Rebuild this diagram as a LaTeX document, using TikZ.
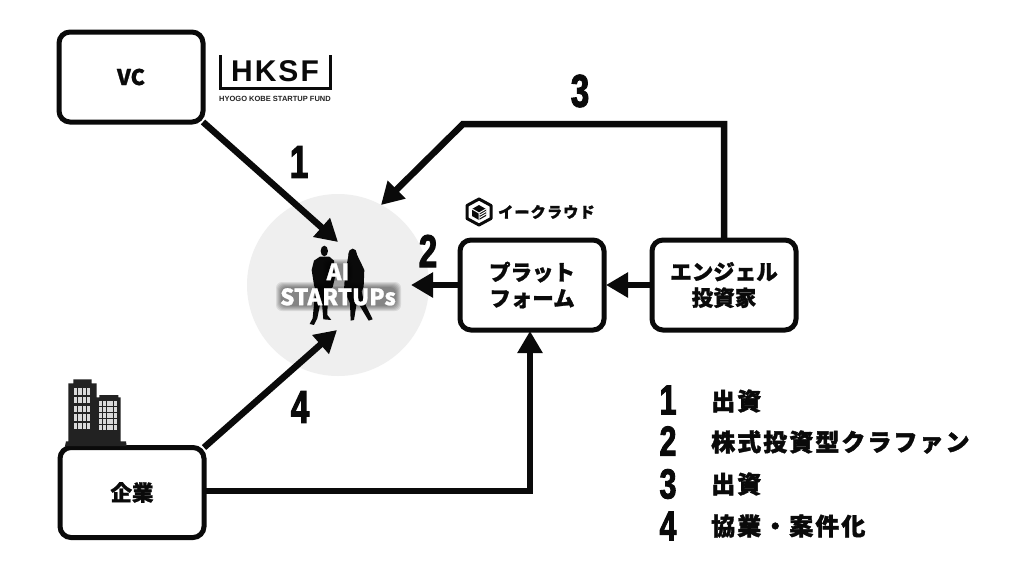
\documentclass[tikz,border=0pt]{standalone}
\usepackage{fontspec}
\usetikzlibrary{arrows.meta}
\newfontfamily\jp{Noto Sans CJK JP}[BoldFeatures={FakeBold=1.2}]
\newfontfamily\jpl{Noto Sans CJK JP}[LetterSpace=8.5,BoldFeatures={FakeBold=1.7,LetterSpace=8.5}]
\newfontfamily\numf{Liberation Sans Bold}[FakeStretch=0.72,FakeBold=2.2]
\newfontfamily\latin{Liberation Sans}
\definecolor{disc}{HTML}{EFEFEF}
\definecolor{ink}{HTML}{0A0A0A}
\definecolor{bld}{HTML}{222222}
\tikzset{
  boxn/.style={draw=ink,line width=5pt,rounded corners=11pt,fill=white,minimum width=144pt,minimum height=90pt,outer sep=0pt,inner sep=0pt,align=center,text=ink},
  boxt/.style={font=\jp\bfseries\fontsize{21.5}{26}\selectfont},
  link/.style={draw=ink,line width=6.5pt,miter limit=10,-{Triangle[length=22pt,width=24pt]}},
  numl/.style={font=\numf\fontsize{46}{46}\selectfont,text=ink,inner sep=0pt},
  numk/.style={font=\numf\fontsize{42}{42}\selectfont,text=ink,inner sep=0pt},
  legt/.style={font=\jpl\bfseries\fontsize{24}{24}\selectfont,text=ink,inner sep=0pt,anchor=west},
  halo/.style={fill=black,opacity=0.09,rounded corners=6pt},
}
\begin{document}
\begin{tikzpicture}[x=1pt,y=-1pt]
\useasboundingbox (0,0) rectangle (1024,579);
\fill[white] (0,0) rectangle (1024,579);
% startup disc
\node[circle,fill=disc,minimum size=182pt,inner sep=0pt] (disc) at (338,285) {};
% silhouettes
\begin{scope}[shift={(240,190)},scale=0.3333,fill=ink]
  \fill (253,183) ellipse (11 and 16);
  \fill (240,200) -- (268,200) -- (282,212) -- (285,262) -- (278,292) -- (264,300) -- (262,375) -- (274,390) -- (250,388) -- (246,340) -- (240,345) -- (232,385) -- (222,405) -- (209,402) -- (218,385) -- (226,300) -- (222,285) -- (215,240) -- (222,212) -- cycle;
  \fill (338,192) ellipse (13 and 16);
  \fill (326,192) -- (350,192) -- (366,225) -- (373,240) -- (371,290) -- (365,305) -- (372,335) -- (398,388) -- (386,392) -- (358,345) -- (350,340) -- (342,390) -- (332,392) -- (330,340) -- (312,300) -- (316,240) -- (322,215) -- cycle;
\end{scope}
% text halos
\foreach \g in {0,1,2,3,4,5}{
  \fill[halo] ({276+\g},{282+\g}) rectangle ({401-\g},{311-\g});
  \fill[halo] ({323+\g},{259+\g}) rectangle ({352-\g},{285-\g});
}
\node[font=\jp\bfseries\fontsize{22.5}{25}\selectfont,text=white,align=center,inner sep=0pt] (ai) at (338,284.5) {AI\\STARTUPs};
% boxes
\node[boxn,boxt] (vc) at (131,77) {VC};
\node[boxn,boxt] (pf) at (532,285) {プラット\\フォーム};
\node[boxn,boxt] (ang) at (724,285) {エンジェル\\投資家};
\node[boxn,boxt] (corp) at (132,492.5) {企業};
% connectors
\coordinate (t1) at (338,242);
\coordinate (b3) at (463,124);
\coordinate (t3) at (381,205);
\coordinate (t2) at (411,285);
\coordinate (t4) at (337,330);
\coordinate (b5) at (530,491);
\coordinate (t5) at (530,331);
\coordinate (t6) at (606,285);
\coordinate (s3a) at (724,124);
\draw[link] (vc.south east) -- (t1);
\draw[link] (ang.north) -- (s3a) -- (b3) -- (t3);
\draw[link] (pf.west) -- (t2);
\draw[link] (ang.west) -- (t6);
\draw[link] (corp.north east) -- (t4);
\draw[link] (corp.east |- b5) -- (b5) -- (t5);
% flow numbers
\node[numl] (n1) at (299,162) {1};
\node[numl] (n2) at (428,251) {2};
\node[numl] (n3) at (580,91) {3};
\node[numl] (n4) at (300,407) {4};
% legend
\node[numk] (k1) at (668,400) {1};
\node[numk] (k2) at (668,441) {2};
\node[numk] (k3) at (668,484) {3};
\node[numk] (k4) at (668,526) {4};
\node[legt] (l1) at (711,401) {出資};
\node[legt] (l2) at (711,442) {株式投資型クラファン};
\node[legt] (l3) at (711,484) {出資};
\node[legt] (l4) at (711,526) {協業・案件化};
% HKSF logo
\draw[ink,line width=3pt] (220,55) -- (220,88) -- (330,88) -- (330,55);
\node[font=\latin\bfseries\fontsize{30}{30}\selectfont,text=ink,inner sep=0pt] (hksf) at (275,71) {H\kern2pt K\kern2pt S\kern2pt F};
\node[font=\latin\bfseries\fontsize{7.5}{8}\selectfont,text=bld,inner sep=0pt] (fund) at (275,99) {HYOGO KOBE STARTUP FUND};
% e-crowd logo
\draw[ink,line width=3pt,line join=round] (479,199) -- (491,205.5) -- (491,218.5) -- (479,225) -- (467,218.5) -- (467,205.5) -- cycle;
\fill[ink] (479,205) -- (486,209) -- (486,216) -- (479,220) -- (472,216) -- (472,209) -- cycle;
\draw[white,line width=1pt] (472,209) -- (479,213) -- (486,209) (479,213) -- (479,220) (480,215) -- (486,211.5) (480,217.5) -- (486,214);
\node[font=\jpl\bfseries\fontsize{15}{16}\selectfont,text=ink,inner sep=0pt,anchor=west] (ec) at (498,212) {イークラウド};
% building
\begin{scope}[shift={(50,370)},scale=0.3333]
  \fill[bld] (45,228) -- (48,214) -- (55,214) -- (55,40) -- (70,40) -- (70,28) -- (125,28) -- (125,40) -- (140,40) -- (140,82) -- (148,82) -- (148,75) -- (205,75) -- (205,82) -- (212,82) -- (212,214) -- (228,214) -- (230,228) -- cycle;
  \foreach \r in {0,...,4}{\foreach \c in {0,...,3}{
    \fill[white!85!black] ({72+\c*13},{55+\r*26}) rectangle ++(10,19);}}
  \foreach \r in {0,...,4}{\foreach \c in {0,...,4}{
    \fill[white!85!black] ({148+\c*11},{94+\r*18}) rectangle ++(9,13);}}
\end{scope}
\end{tikzpicture}
\end{document}
